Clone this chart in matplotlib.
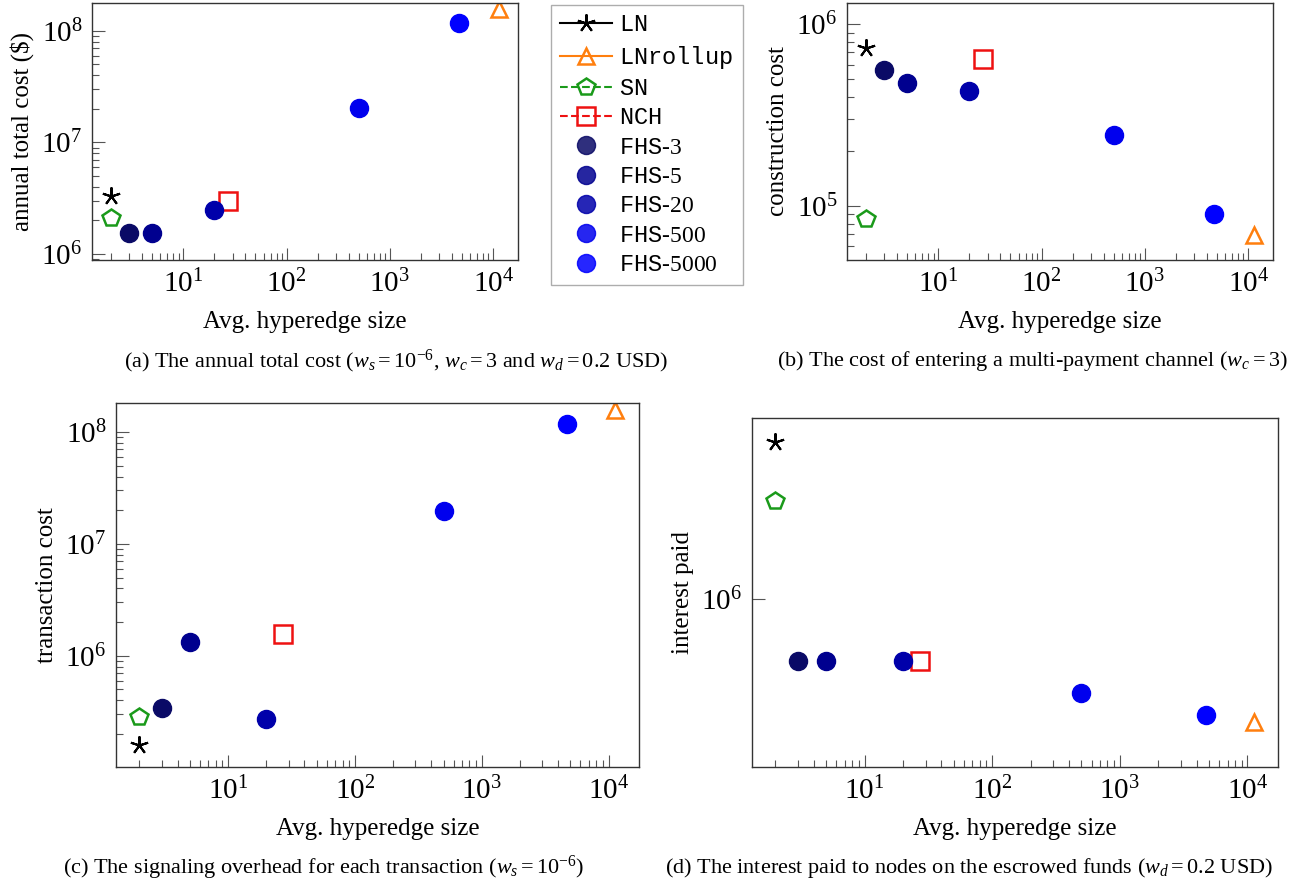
import matplotlib
matplotlib.use("Agg")
import matplotlib.pyplot as plt
from matplotlib.lines import Line2D
from matplotlib.ticker import FixedLocator, NullLocator

plt.rcParams["font.family"] = ["Liberation Serif", "DejaVu Serif"]
plt.rcParams["mathtext.fontset"] = "custom"
plt.rcParams["mathtext.rm"] = "Liberation Serif"
plt.rcParams["mathtext.it"] = "Liberation Serif:italic"
plt.rcParams["mathtext.tt"] = "Liberation Mono"

# x = average hyperedge size per scheme
schemes = ["LN", "LNrollup", "SN", "NCH", "FHS-3", "FHS-5", "FHS-20", "FHS-500", "FHS-5000"]
hyperedge = [2, 11300, 2, 27, 3, 5, 20, 500, 4700]

annual_total = [3.3e6, 1.57e8, 2.1e6, 3.0e6, 1.54e6, 1.54e6, 2.48e6, 2.04e7, 1.18e8]
construction = [7.4e5, 6.9e4, 8.5e4, 6.4e5, 5.6e5, 4.75e5, 4.27e5, 2.45e5, 9.0e4]
transaction = [1.58e5, 1.56e8, 2.83e5, 1.58e6, 3.38e5, 1.32e6, 2.72e5, 1.95e7, 1.17e8]
interest = [2.4e6, 5.04e5, 1.73e6, 7.08e5, 7.08e5, 7.08e5, 7.08e5, 5.93e5, 5.24e5]

STYLE = {
    "LN": dict(marker=(5, 2, 0), color="black", mfc="black", ms=13, mew=1.5, ls="-"),
    "LNrollup": dict(marker="^", color="#ff7f0e", mfc="none", ms=11, mew=1.8, ls="-"),
    "SN": dict(marker="p", color="#1a9a1a", mfc="none", ms=13, mew=1.8, ls="--"),
    "NCH": dict(marker="s", color="#ee1111", mfc="none", ms=13, mew=1.8, ls="--"),
}
FHS_COLORS = {"FHS-3": "#0a0a66", "FHS-5": "#00008f", "FHS-20": "#0000aa",
              "FHS-500": "#0000ee", "FHS-5000": "#0000ff"}

W, H = 1292, 882
fig = plt.figure(figsize=(W / 100, H / 100), dpi=100)


def box(left, top, right, bottom):
    return [left / W, 1 - bottom / H, (right - left) / W, (bottom - top) / H]


panels = [
    (box(92, 3, 518, 260), annual_total, "annual total cost ($)", (10 ** 5.946, 10 ** 8.25),
     "(a) The annual total cost ($w_s = 10^{-6}$, $w_c = 3$ and $w_d = 0.2$ USD)", (396, 361)),
    (box(847, 3, 1273, 260), construction, "construction cost", (10 ** 4.703, 10 ** 6.117),
     "(b) The cost of entering a multi-payment channel ($w_c = 3$)", (1032, 361)),
    (box(116, 403, 639, 767), transaction, "transaction cost", (10 ** 5.006, 10 ** 8.259),
     "(c) The signaling overhead for each transaction ($w_s = 10^{-6}$)", (324, 868)),
    (box(752, 418, 1278, 767), interest, "interest paid", (3.92e5, 2.74e6),
     "(d) The interest paid to nodes on the escrowed funds ($w_d = 0.2$ USD)", (969, 868)),
]

for i, (rect, values, ylabel, ylim, caption, cpos) in enumerate(panels):
    ax = fig.add_axes(rect)
    ax.set_xscale("log")
    ax.set_yscale("log")
    for name, x, y in zip(schemes, hyperedge, values):
        if name in STYLE:
            st = dict(STYLE[name])
            st.pop("ls")
            ax.plot([x], [y], ls="none", mec=st["color"], **st)
        else:
            ax.plot([x], [y], ls="none", marker="o", ms=13, color=FHS_COLORS[name],
                    mec=FHS_COLORS[name])
    ax.set_xlim(10 ** 0.117, 10 ** 4.24)
    ax.set_ylim(*ylim)
    ax.xaxis.set_major_locator(FixedLocator([10, 100, 1000, 10000]))
    if i == 3:
        ax.yaxis.set_major_locator(FixedLocator([1e6]))
        ax.yaxis.set_minor_locator(NullLocator())
    ax.tick_params(which="both", direction="in", top=False, right=False,
                   color="#555555", labelsize=21)
    ax.tick_params(which="major", length=9, width=0.8, pad=7)
    ax.tick_params(which="minor", length=5, width=0.8)
    for s in ax.spines.values():
        s.set_linewidth(1.0)
        s.set_color("#333333")
    ax.set_xlabel("Avg. hyperedge size", fontsize=18, labelpad=9)
    ax.set_ylabel(ylabel, fontsize=18, labelpad=5)
    fig.text(cpos[0] / W, 1 - cpos[1] / H, caption, fontsize=16, ha="center", va="center")

handles = []
labels = []
for name in schemes:
    if name in STYLE:
        st = STYLE[name]
        handles.append(Line2D([], [], lw=1.5, mec=st["color"], **st))
        labels.append(r"$\mathtt{%s}$" % name)
    else:
        c = FHS_COLORS[name]
        handles.append(Line2D([], [], ls="none", marker="o", ms=13, color=c, mec=c, alpha=0.85))
        labels.append(r"$\mathtt{FHS}$-" + name.split("-")[1])

leg = fig.legend(handles, labels, loc="upper left", bbox_to_anchor=(551 / W, 1 - 5 / H),
                 fontsize=17, frameon=True, fancybox=False, edgecolor="#999999",
                 handlelength=2.2, labelspacing=0.33, borderpad=0.4, handletextpad=0.3,
                 borderaxespad=0)
leg.get_frame().set_linewidth(1.0)

fig.savefig("out.png", dpi=100)
